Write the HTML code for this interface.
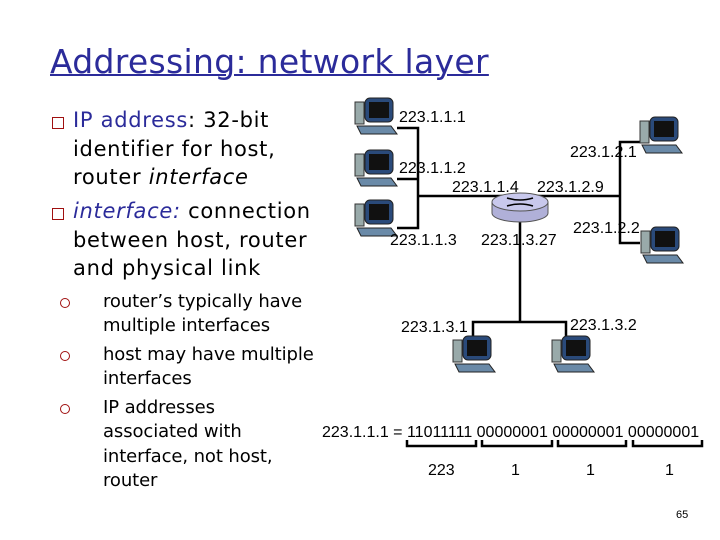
<!DOCTYPE html>
<html><head><meta charset="utf-8"><style>
body{margin:0;width:720px;height:540px;background:#fff;position:relative;overflow:hidden;font-family:"DejaVu Sans","Liberation Sans",sans-serif;}
.t{position:absolute;white-space:nowrap;color:#000;}
.title{left:50px;top:42px;font-size:33px;color:#2b2b9a;text-decoration:underline;text-decoration-thickness:2px;letter-spacing:0.3px}
.b{font-size:21px;letter-spacing:0.7px}
.s{font-size:18px;letter-spacing:-0.1px}
.bl{position:absolute;width:10px;height:10px;border:1.5px solid #a01010;}
.sb{position:absolute;width:8px;height:8px;border:1.5px solid #a01010;border-radius:50%;}
.n{font-family:"Liberation Sans",sans-serif;font-size:16px;position:absolute;white-space:nowrap}
.blue{color:#2b2b9a}
</style></head><body>
<div class="t title">Addressing: network layer</div>
<div class="bl" style="left:52px;top:117px"></div>
<div class="t b" style="left:73px;top:108px"><span class="blue">IP address</span>: 32-bit</div>
<div class="t b" style="left:73px;top:137px">identifier for host,</div>
<div class="t b" style="left:73px;top:165px">router <i>interface</i></div>
<div class="bl" style="left:52px;top:208px"></div>
<div class="t b" style="left:73px;top:199px"><i class="blue">interface:</i> connection</div>
<div class="t b" style="left:73px;top:228px">between host, router</div>
<div class="t b" style="left:73px;top:256px">and physical link</div>
<div class="sb" style="left:60px;top:298px"></div>
<div class="t s" style="left:103px;top:291px">router’s typically have</div>
<div class="t s" style="left:103px;top:315px">multiple interfaces</div>
<div class="sb" style="left:60px;top:351px"></div>
<div class="t s" style="left:103px;top:344px">host may have multiple</div>
<div class="t s" style="left:103px;top:368px">interfaces</div>
<div class="sb" style="left:60px;top:404px"></div>
<div class="t s" style="left:103px;top:397px">IP addresses</div>
<div class="t s" style="left:103px;top:421px">associated with</div>
<div class="t s" style="left:103px;top:446px">interface, not host,</div>
<div class="t s" style="left:103px;top:470px">router</div>

<svg width="720" height="540" style="position:absolute;left:0;top:0">
<defs>
<g id="pc">
<rect x="0" y="4" width="9" height="22" fill="#9aa" stroke="#333" stroke-width="1"/>
<rect x="10" y="0" width="28" height="24" rx="5" fill="#2a4a7a" stroke="#222"/>
<rect x="14" y="4" width="20" height="16" fill="#111"/>
<path d="M2 28 L36 28 L42 36 L6 36 Z" fill="#6a8aa8" stroke="#222"/>
</g>
</defs>
<g stroke="#000" stroke-width="2.5" fill="none">
<polyline points="397,128 418,128 418,228 397,228"/>
<line x1="397" y1="179" x2="418" y2="179"/>
<line x1="418" y1="196" x2="620" y2="196"/>
<polyline points="640,142 620,142 620,243 640,243"/>
<line x1="520" y1="215" x2="520" y2="322"/>
<polyline points="473,340 473,322 566,322 566,340"/>
</g>
<use href="#pc" x="355" y="98"/>
<use href="#pc" x="355" y="150"/>
<use href="#pc" x="355" y="200"/>
<use href="#pc" x="640" y="117"/>
<use href="#pc" x="641" y="227"/>
<use href="#pc" x="453" y="336"/>
<use href="#pc" x="552" y="336"/>
<ellipse cx="520" cy="213" rx="28" ry="9" fill="#b0b0d8" stroke="#555"/>
<rect x="492" y="202" width="56" height="11" fill="#b0b0d8"/>
<line x1="492" y1="202" x2="492" y2="213" stroke="#555"/>
<line x1="548" y1="202" x2="548" y2="213" stroke="#555"/>
<ellipse cx="520" cy="202" rx="28" ry="9" fill="#c8c8ec" stroke="#555"/>
<path d="M507 198 Q520 202 533 198 M507 206 Q520 202 533 206" stroke="#000" stroke-width="1.5" fill="none"/>
<g stroke="#000" stroke-width="2.5" fill="none">
<polyline points="407,440 407,446 476,446 476,440"/>
<polyline points="482,440 482,446 552,446 552,440"/>
<polyline points="558,440 558,446 626,446 626,440"/>
<polyline points="633,440 633,446 702,446 702,440"/>
</g>
</svg>
<div class="n" style="left:399px;top:109px">223.1.1.1</div>
<div class="n" style="left:399px;top:160px">223.1.1.2</div>
<div class="n" style="left:452px;top:179px">223.1.1.4</div>
<div class="n" style="left:537px;top:179px">223.1.2.9</div>
<div class="n" style="left:570px;top:144px">223.1.2.1</div>
<div class="n" style="left:573px;top:220px">223.1.2.2</div>
<div class="n" style="left:390px;top:232px">223.1.1.3</div>
<div class="n" style="left:481px;top:232px">223.1.3.27</div>
<div class="n" style="left:401px;top:319px">223.1.3.1</div>
<div class="n" style="left:570px;top:317px">223.1.3.2</div>
<div class="n" style="left:322px;top:424px">223.1.1.1 = 11011111 00000001 00000001 00000001</div>
<div class="n" style="left:428px;top:462px">223</div>
<div class="n" style="left:511px;top:462px">1</div>
<div class="n" style="left:586px;top:462px">1</div>
<div class="n" style="left:665px;top:462px">1</div>
<div class="n" style="left:676px;top:509px;font-size:11px">65</div>
</body></html>
